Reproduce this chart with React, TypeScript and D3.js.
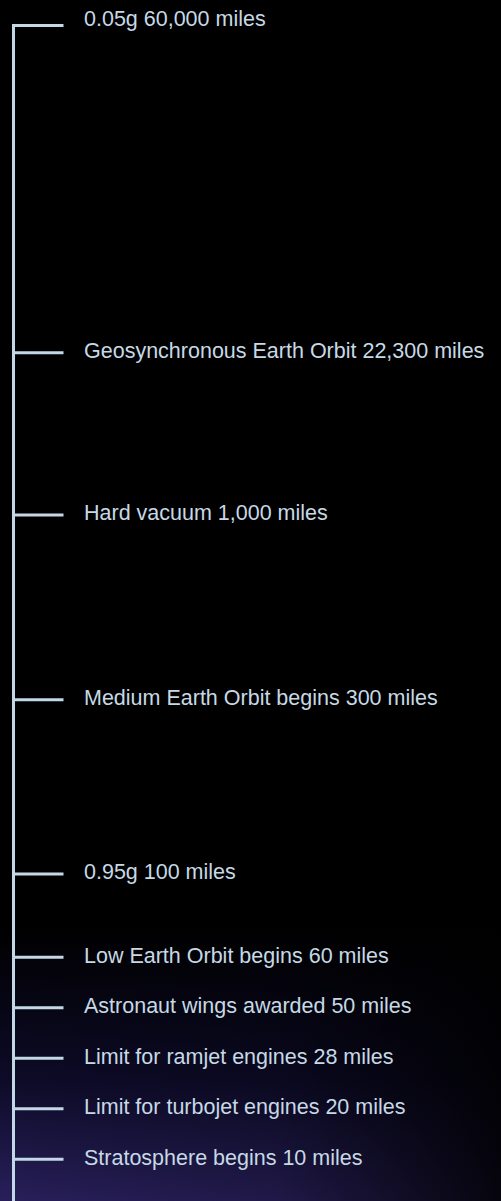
import React from 'react';
import * as d3 from 'd3';

// altitude milestones, top to bottom
const labels = [
  '0.05g',
  'Geosynchronous Earth Orbit',
  'Hard vacuum',
  'Medium Earth Orbit begins',
  '0.95g',
  'Low Earth Orbit begins',
  'Astronaut wings awarded',
  'Limit for ramjet engines',
  'Limit for turbojet engines',
  'Stratosphere begins',
];
const miles = [60000, 22300, 1000, 300, 100, 60, 50, 28, 20, 10];
// position on the (non-proportional) altitude ladder, in rungs from the bottom
const levels = [23.45, 16.97, 13.76, 10.1, 6.65, 5, 4, 3, 2, 1];

const width = 501;
const height = 1201;
const lineColor = '#c3d8e6';
const textColor = '#c6d9e5';

const App: React.FC = () => {
  const y = d3.scaleLinear().domain([1, d3.max(levels) as number]).range([1159.3, 25.5]);
  const axisX = 13.5;
  const tickLen = 50;
  const fmt = d3.format(',');

  return (
    <svg
      width={width}
      height={height}
      style={{ position: 'absolute', left: 0, top: 0, display: 'block' }}
    >
      <defs>
        <linearGradient id="fade" x1="0" y1="0" x2="0" y2="1">
          <stop offset="0%" stopColor="#000" />
          <stop offset="77%" stopColor="#000" />
          <stop offset="90%" stopColor="#0d0b28" />
          <stop offset="100%" stopColor="#281f5a" />
        </linearGradient>
        <linearGradient id="rightFade" x1="0" y1="0" x2="1" y2="0">
          <stop offset="0%" stopColor="#000" stopOpacity={0} />
          <stop offset="55%" stopColor="#000" stopOpacity={0.2} />
          <stop offset="100%" stopColor="#000" stopOpacity={0.85} />
        </linearGradient>
      </defs>
      <rect width={width} height={height} fill="url(#fade)" />
      <rect y={height * 0.77} width={width} height={height * 0.23} fill="url(#rightFade)" />

      <line
        x1={axisX}
        x2={axisX}
        y1={y(levels[0]) - 1.5}
        y2={height}
        stroke={lineColor}
        strokeWidth={3}
      />
      <g style={{ fontFamily: 'Liberation Sans, Arial, Helvetica, sans-serif', fontSize: '21.5px' }}>
        {labels.map((d, i) => {
          const ty = y(levels[i]);
          return (
            <g key={i}>
              <line
                x1={axisX - 1.5}
                x2={axisX + tickLen}
                y1={ty}
                y2={ty}
                stroke={lineColor}
                strokeWidth={3}
              />
              <text x={84} y={ty + (i === 0 ? 0.5 : 5.5)} fill={textColor}>
                {`${d} ${fmt(miles[i])} miles`}
              </text>
            </g>
          );
        })}
      </g>
    </svg>
  );
};

export default App;
